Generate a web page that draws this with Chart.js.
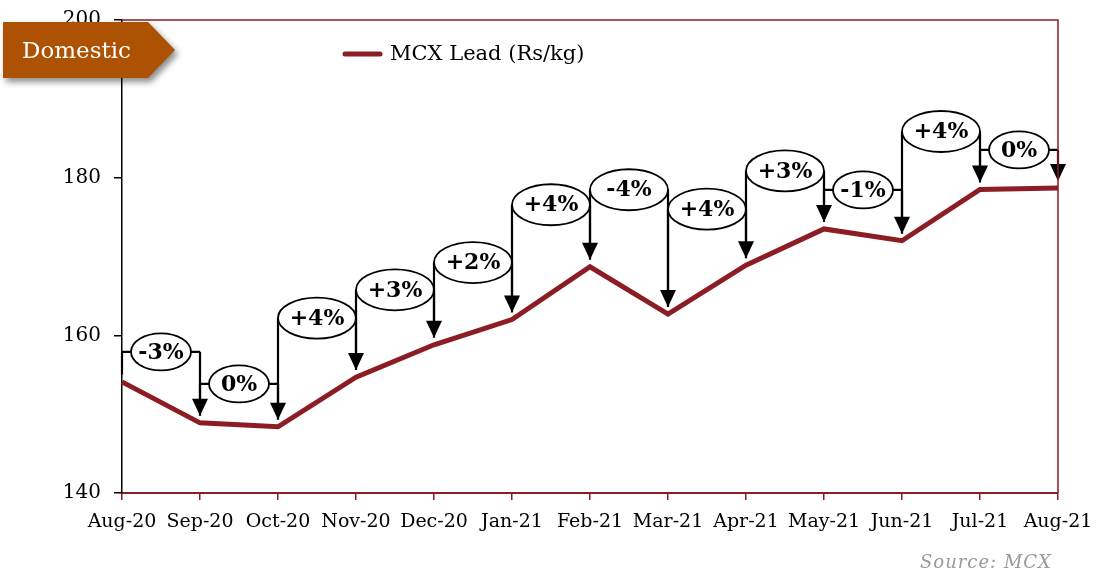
<!DOCTYPE html>
<html>
<head>
<meta charset="utf-8">
<script src="https://cdn.jsdelivr.net/npm/chart.js@4.4.0/dist/chart.umd.min.js"></script>
<style>
body{margin:0;background:#fff;}
#wrap{position:relative;width:1097px;height:573px;}
#tag{position:absolute;left:3px;top:22px;filter:drop-shadow(3px 4px 3px rgba(0,0,0,0.45));}
#tagInner{width:172px;height:56px;background:#AD5103;color:#fff;font:23px 'DejaVu Serif',serif;line-height:56px;padding-left:19px;box-sizing:border-box;
  clip-path:polygon(0 0,145px 0,172px 50%,145px 100%,0 100%);}
#src{position:absolute;left:920px;top:551px;font:italic 18px 'DejaVu Serif',serif;color:#9a9a9a;letter-spacing:1px;}
</style>
</head>
<body>
<div id="wrap">
<canvas id="mycanvas" width="1097" height="573"></canvas>
<div id="tag"><div id="tagInner">Domestic</div></div>
<div id="src">Source: MCX</div>
</div>
<script>
// months on the x axis
var months = ['Aug-20','Sep-20','Oct-20','Nov-20','Dec-20','Jan-21','Feb-21','Mar-21','Apr-21','May-21','Jun-21','Jul-21','Aug-21'];
// MCX lead price, Rs/kg
var leadPrice = [154.1,148.9,148.4,154.7,158.8,162.0,168.7,162.7,168.9,173.5,172.0,178.5,178.7];
// month on month change shown in the bubbles
var changeLabels = ['-3%','0%','+4%','+3%','+2%','+4%','-4%','+4%','+3%','-1%','+4%','0%'];
var yTicks = [140,160,180,200];

var serif = "'DejaVu Serif', serif";
var darkRed = '#8C1D25';

// bubble layout (pixels above the higher of the two points), wide = bubble spans the gap
var bubbleLift = [30,39,59,55,57,62,77,56,58,39,58,38];
var bubbleWide = [false,false,true,true,true,true,true,true,true,false,true,false];

var bubbles = {
	id:'bubbles',
	afterDatasetsDraw:function(chart){
		var ctx = chart.ctx, xs = chart.scales.x, ys = chart.scales.y;
		ctx.save();
		ctx.strokeStyle = '#000';
		ctx.lineWidth = 2.2;
		for(var i=0;i<changeLabels.length;i++){
			var x0 = xs.getPixelForValue(i), x1 = xs.getPixelForValue(i+1);
			var p0 = ys.getPixelForValue(leadPrice[i]), p1 = ys.getPixelForValue(leadPrice[i+1]);
			var by = Math.min(p0,p1) - bubbleLift[i];
			var cx = (x0+x1)/2;
			var rx = bubbleWide[i] ? (x1-x0)/2 : 30;
			var ry = bubbleWide[i] ? 20.5 : 18.5;
			ctx.beginPath();
			ctx.moveTo(x0,by); ctx.lineTo(x0,p0-7);
			ctx.moveTo(x1,by); ctx.lineTo(x1,p1-22);
			if(!bubbleWide[i]){ ctx.moveTo(x0,by); ctx.lineTo(x1,by); }
			ctx.stroke();
			// arrow head
			ctx.fillStyle = '#000';
			ctx.beginPath();
			ctx.moveTo(x1,p1-7); ctx.lineTo(x1-8,p1-24); ctx.lineTo(x1+8,p1-24); ctx.closePath();
			ctx.fill();
			// bubble
			ctx.beginPath();
			ctx.ellipse(cx,by,rx,ry,0,0,Math.PI*2);
			ctx.fillStyle = '#fff';
			ctx.fill();
			ctx.lineWidth = 1.8;
			ctx.stroke();
			ctx.lineWidth = 2.2;
			ctx.fillStyle = '#000';
			ctx.font = 'bold 22px ' + serif;
			ctx.textAlign = 'center';
			ctx.textBaseline = 'middle';
			ctx.fillText(changeLabels[i],cx,by+1);
		}
		ctx.restore();
	},
	afterDraw:function(chart){
		var ctx = chart.ctx, a = chart.chartArea;
		ctx.save();
		// frame: top and right in red
		ctx.strokeStyle = darkRed;
		ctx.lineWidth = 1.5;
		ctx.beginPath();
		ctx.moveTo(a.left,a.top); ctx.lineTo(a.right,a.top); ctx.lineTo(a.right,a.bottom);
		ctx.stroke();
		// legend inside plot
		ctx.strokeStyle = darkRed;
		ctx.lineWidth = 5;
		ctx.lineCap = 'round';
		ctx.beginPath();
		ctx.moveTo(345,54); ctx.lineTo(380,54);
		ctx.stroke();
		ctx.fillStyle = '#000';
		ctx.font = '21px ' + serif;
		ctx.textBaseline = 'middle';
		ctx.fillText('MCX Lead (Rs/kg)',390,55);
		ctx.restore();
	}
};

var ctx = document.getElementById('mycanvas');
var lineChart = new Chart(ctx,{
	type:'line',
	data:{
		labels:months,
		datasets:[{
			label:'MCX Lead (Rs/kg)',
			data:leadPrice,
			borderColor:darkRed,
			borderWidth:5,
			pointRadius:0,
			tension:0,
			fill:false
		}]
	},
	options:{
		responsive:false,
		animation:false,
		layout:{padding:{top:20,right:39,left:0,bottom:0}},
		plugins:{legend:{display:false},tooltip:{enabled:false}},
		scales:{
			x:{
				offset:false,
				grid:{display:true,drawOnChartArea:false,color:darkRed,tickLength:7,lineWidth:1.5},
				border:{color:darkRed,width:2},
				ticks:{color:'#000',font:{family:serif,size:19},padding:11,maxRotation:0,autoSkip:false},
				afterFit:function(s){ s.height = 80; s.paddingLeft = 0; s.paddingRight = 0; }
			},
			y:{
				min:140,max:200,
				afterBuildTicks:function(s){ s.ticks = yTicks.map(function(v){return {value:v};}); },
				grid:{display:true,drawOnChartArea:false,color:'#000',tickLength:8,lineWidth:1.5},
				border:{color:'#000',width:1.5},
				ticks:{color:'#000',font:{family:serif,size:20},padding:13},
				afterFit:function(s){ s.width = 122; s.paddingTop = 0; s.paddingBottom = 0; }
			}
		}
	},
	plugins:[bubbles]
});
</script>
</body>
</html>
